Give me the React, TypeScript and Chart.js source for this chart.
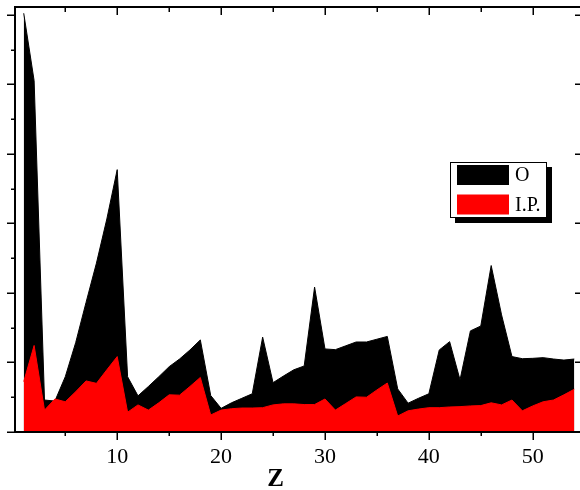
import React, { useEffect, useRef } from 'react';
import { Chart, registerables } from 'chart.js';

Chart.register(...registerables);

const zValues = [
  1, 2, 3, 4, 5, 6, 7, 8, 9, 10, 11, 12, 13, 14, 15, 16, 17, 18,
  19, 20, 21, 22, 23, 24, 25, 26, 27, 28, 29, 30, 31, 32, 33, 34, 35, 36,
  37, 38, 39, 40, 41, 42, 43, 44, 45, 46, 47, 48, 49, 50, 51, 52, 53, 54,
];

const oValues = [
  120.5, 101.1, 9.2, 8.9, 15.9, 25.7, 37.3, 48.6, 61.3, 75.5, 15.9, 10.4, 13.1, 15.9, 18.8, 21.0, 23.6, 26.5,
  10.5, 6.8, 8.4, 9.7, 11.0, 27.3, 14.2, 16.1, 17.9, 19.0, 41.7, 23.9, 23.7, 24.8, 25.9, 25.9, 26.7, 27.5,
  12.4, 8.3, 9.7, 11.0, 23.6, 26.0, 15.0, 29.1, 30.5, 47.9, 33.7, 21.7, 21.1, 21.2, 21.4, 21.0, 20.7, 21.0,
];

const ipValues = [
  14.5, 24.9, 6.3, 9.5, 8.7, 11.6, 14.7, 14.0, 17.9, 21.7, 5.7, 7.8, 6.3, 8.4, 10.7, 10.6, 13.1, 15.7,
  4.9, 6.3, 6.7, 6.9, 6.9, 7.0, 7.8, 8.1, 8.1, 7.9, 7.9, 9.5, 6.3, 8.2, 10.1, 10.0, 12.1, 14.1,
  4.6, 6.1, 6.6, 7.0, 7.0, 7.2, 7.3, 7.5, 7.6, 8.4, 7.8, 9.2, 6.1, 7.5, 8.7, 9.2, 10.7, 12.3,
];

const seriesLabels = ['O', 'I.P.'];
const seriesColors = ['#000000', '#ff0000'];
const xMajorTicks = [10, 20, 30, 40, 50];
const xMinorTicks = [5, 15, 25, 35, 45];
const yMajorTicks = [0, 20, 40, 60, 80, 100, 120];
const yMinorTicks = [10, 30, 50, 70, 90, 110];
const xTitle = 'Z';

const FONT = "'Liberation Serif', 'Times New Roman', serif";

const framePlugin = {
  id: 'frameAndLegend',
  afterDraw(chart: any) {
    const { ctx, chartArea: a, scales } = chart;
    const x = scales.x;
    const y = scales.y;
    ctx.save();
    ctx.strokeStyle = '#000';
    ctx.lineWidth = 2;
    ctx.beginPath();
    ctx.moveTo(a.left, a.top);
    ctx.lineTo(a.left, a.bottom);
    ctx.lineTo(a.right, a.bottom);
    ctx.moveTo(a.left - 1, a.top);
    ctx.lineTo(a.right, a.top);
    ctx.stroke();

    ctx.lineWidth = 1.5;
    ctx.beginPath();
    xMajorTicks.forEach((v) => {
      const px = Math.round(x.getPixelForValue(v)) + 0.25;
      ctx.moveTo(px, a.bottom);
      ctx.lineTo(px, a.bottom + 8);
      ctx.moveTo(px, a.top);
      ctx.lineTo(px, a.top + 8);
    });
    xMinorTicks.forEach((v) => {
      const px = Math.round(x.getPixelForValue(v)) + 0.25;
      ctx.moveTo(px, a.bottom);
      ctx.lineTo(px, a.bottom + 4);
      ctx.moveTo(px, a.top);
      ctx.lineTo(px, a.top + 5);
    });
    yMajorTicks.forEach((v) => {
      const py = Math.round(y.getPixelForValue(v)) + 0.25;
      ctx.moveTo(a.left - 8, py);
      ctx.lineTo(a.left, py);
      ctx.moveTo(a.right - 5, py);
      ctx.lineTo(a.right, py);
    });
    yMinorTicks.forEach((v) => {
      const py = Math.round(y.getPixelForValue(v)) + 0.25;
      ctx.moveTo(a.left - 4, py);
      ctx.lineTo(a.left, py);
    });
    ctx.stroke();

    // axis title
    ctx.fillStyle = '#000';
    ctx.font = `bold 25px ${FONT}`;
    ctx.textAlign = 'center';
    ctx.textBaseline = 'middle';
    ctx.fillText(xTitle, (a.left + a.right) / 2 - 22, 480);

    // legend with shadow
    const bx = 450;
    const by = 162;
    const bw = 97;
    const bh = 56;
    ctx.fillStyle = '#000';
    ctx.fillRect(bx + 5, by + 5, bw, bh);
    ctx.fillStyle = '#fff';
    ctx.fillRect(bx, by, bw, bh);
    ctx.lineWidth = 1;
    ctx.strokeStyle = '#000';
    ctx.strokeRect(bx + 0.5, by + 0.5, bw - 1, bh - 1);
    ctx.font = `20px ${FONT}`;
    ctx.textAlign = 'left';
    ctx.textBaseline = 'middle';
    seriesLabels.forEach((label, i) => {
      const sy = by + 3 + i * 29.5;
      ctx.fillStyle = seriesColors[i];
      ctx.fillRect(bx + 7, sy, 52, 20);
      ctx.fillStyle = '#000';
      ctx.fillText(label, bx + 65, sy + 11);
    });
    ctx.restore();
  },
};

export default function App() {
  const canvasRef = useRef<HTMLCanvasElement | null>(null);

  useEffect(() => {
    const canvas = canvasRef.current;
    if (!canvas) return;
    const chart = new Chart(canvas, {
      type: 'line',
      data: {
        datasets: [
          {
            label: seriesLabels[0],
            data: zValues.map((z, i) => ({ x: z, y: oValues[i] })),
            borderColor: seriesColors[0],
            backgroundColor: seriesColors[0],
            borderWidth: 1,
            pointRadius: 0,
            fill: 'origin',
            tension: 0,
            order: 1,
          },
          {
            label: seriesLabels[1],
            data: zValues.map((z, i) => ({ x: z, y: ipValues[i] })),
            borderColor: seriesColors[1],
            backgroundColor: seriesColors[1],
            borderWidth: 1,
            pointRadius: 0,
            fill: 'origin',
            tension: 0,
            order: 0,
          },
        ],
      },
      options: {
        responsive: false,
        animation: false,
        layout: { padding: { left: 15, top: 7, right: 0, bottom: 0 } },
        plugins: {
          legend: { display: false },
          tooltip: { enabled: false },
        },
        scales: {
          x: {
            type: 'linear',
            min: 0.16,
            max: 54.55,
            grid: { display: false, drawTicks: false },
            border: { display: false },
            afterBuildTicks: (scale: any) => {
              scale.ticks = xMajorTicks.map((v) => ({ value: v }));
            },
            afterFit: (scale: any) => {
              scale.height = 58;
            },
            ticks: {
              color: '#000',
              font: { family: FONT, size: 22 },
              padding: 12,
              maxRotation: 0,
              autoSkip: false,
              callback: (v: any) => String(v),
            },
          },
          y: {
            type: 'linear',
            display: false,
            min: 0,
            max: 122.3,
          },
        },
      },
      plugins: [framePlugin],
    });
    return () => chart.destroy();
  }, []);

  return (
    <div style={{ position: 'fixed', left: 0, top: 0, width: 580, height: 490, background: '#fff' }}>
      <canvas ref={canvasRef} width={580} height={490} style={{ display: 'block' }} />
    </div>
  );
}
